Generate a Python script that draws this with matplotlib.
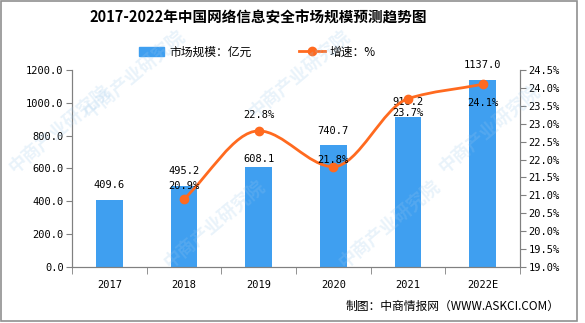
import numpy as np
import matplotlib
matplotlib.use("Agg")
import matplotlib.pyplot as plt
from matplotlib.path import Path
from matplotlib.patches import PathPatch, Rectangle
from matplotlib.lines import Line2D

# Data
years = ["2017", "2018", "2019", "2020", "2021", "2022E"]
market_size = [409.6, 495.2, 608.1, 740.7, 916.2, 1137.0]   # 亿元
growth = [None, 20.9, 22.8, 21.8, 23.7, 24.1]              # %

# label offsets in pixels (negative = above)
bar_label_dy = [15, 15, 8, 14, 15, 15]
pct_label_dy = [0, -13, -16, -7, 14, 19]

bar_color = "#3F9FF0"
line_color = "#FF6A1F"
mono = "DejaVu Sans Mono"
cjk = ["Noto Sans CJK SC", "DejaVu Sans"]

fig = plt.figure(figsize=(5.85, 3.23), dpi=100)
W, H = 585, 323
ax = fig.add_axes([72 / W, 1 - 267 / H, 448 / W, 197 / H])
ax2 = ax.twinx()

x = np.arange(len(years))
ax.bar(x, market_size, width=0.36, color=bar_color, zorder=2)
ax.set_xlim(-0.5, len(years) - 0.5)
ax.set_ylim(0, 1200)
ax.set_yticks(np.arange(0, 1201, 200))
ax.set_yticklabels([f"{v:.1f}" for v in np.arange(0, 1201, 200)], fontfamily=mono, fontsize=7.5)
ax.set_xticks(x)
ax.set_xticklabels(years, fontfamily=mono, fontsize=7.5)
ax.set_xticks(np.arange(-0.5, len(years)), minor=True)
ax.tick_params(axis="x", which="major", length=0, pad=9)
ax.tick_params(axis="x", which="minor", length=5, color="#808080")
ax.tick_params(axis="y", length=4, color="#808080", pad=2)

for a in (ax, ax2):
    for s in a.spines.values():
        s.set_color("#808080")
    a.spines["top"].set_visible(False)

ax2.set_ylim(19.0, 24.5)
rt = np.arange(19.0, 24.51, 0.5)
ax2.set_yticks(rt)
ax2.set_yticklabels([f"{v:.1f}%" for v in rt], fontfamily=mono, fontsize=7.5)
ax2.tick_params(axis="y", length=4, color="#808080", pad=2)

# bar value labels
for i, v in enumerate(market_size):
    ax.annotate(f"{v:.1f}", (x[i], v), xytext=(0, bar_label_dy[i] * 0.72),
                textcoords="offset points", ha="center", va="center",
                fontfamily=mono, fontsize=7.5, zorder=5)

# smooth growth line (monotone cubic tangents -> bezier)
px = np.array([x[i] for i in range(len(years)) if growth[i] is not None], dtype=float)
py = np.array([g for g in growth if g is not None], dtype=float)
d = np.diff(py) / np.diff(px)
m = np.zeros_like(py)
m[0], m[-1] = d[0], d[-1]
for k in range(1, len(py) - 1):
    if d[k - 1] * d[k] <= 0:
        m[k] = 0.0
    else:
        m[k] = 2 * d[k - 1] * d[k] / (d[k - 1] + d[k])
verts = [(px[0], py[0])]
codes = [Path.MOVETO]
for k in range(len(px) - 1):
    h = px[k + 1] - px[k]
    verts += [(px[k] + h / 3, py[k] + m[k] * h / 3),
              (px[k + 1] - h / 3, py[k + 1] - m[k + 1] * h / 3),
              (px[k + 1], py[k + 1])]
    codes += [Path.CURVE4] * 3
ax2.add_patch(PathPatch(Path(verts, codes), fill=False, edgecolor=line_color,
                        linewidth=2.0, zorder=3))
ax2.plot(px, py, "o", color=line_color, markersize=6, zorder=4)
ax2.set_zorder(ax.get_zorder() + 1)
ax2.patch.set_visible(False)

for i in range(len(years)):
    if growth[i] is None:
        continue
    ax2.annotate(f"{growth[i]:.1f}%", (x[i], growth[i]), xytext=(0, -pct_label_dy[i] * 0.72),
                 textcoords="offset points", ha="center", va="center",
                 fontfamily=mono, fontsize=7.5, zorder=6)

# title
fig.text(258 / W, 1 - 18 / H, "2017-2022年中国网络信息安全市场规模预测趋势图",
         ha="center", va="center", fontsize=10.5, fontweight="bold", family=cjk)

# legend
leg_handles = [Rectangle((0, 0), 1, 1, color=bar_color),
               Line2D([0], [0], color=line_color, lw=2, marker="o", markersize=6)]
fig.legend(leg_handles, ["市场规模：亿元", "增速：%"], loc="center",
           bbox_to_anchor=(257 / W, 1 - 52 / H), ncol=2, frameon=False,
           prop={"family": cjk, "size": 8.5}, handlelength=2.2, columnspacing=4,
           handletextpad=0.4)

# source
fig.text(560 / W, 1 - 306 / H, "制图：中商情报网（WWW.ASKCI.COM）",
         ha="right", va="center", fontsize=8.5, family=cjk)

# watermark
for cx, cy in [(60, 130), (215, 225), (300, 75), (390, 225), (490, 130), (135, 75)]:
    fig.text(cx / W, 1 - cy / H, "中商产业研究院", rotation=40, ha="center", va="center",
             fontsize=13, fontweight="bold", color="#9CC8EC", alpha=0.22, family=cjk, zorder=10)

# frame
fig.patches.append(Rectangle((0.5 / W, 1 - 321 / H), 576 / W, 320 / H,
                             transform=fig.transFigure, fill=False,
                             edgecolor="#909090", linewidth=1.2))

fig.savefig("out.png", dpi=100)
